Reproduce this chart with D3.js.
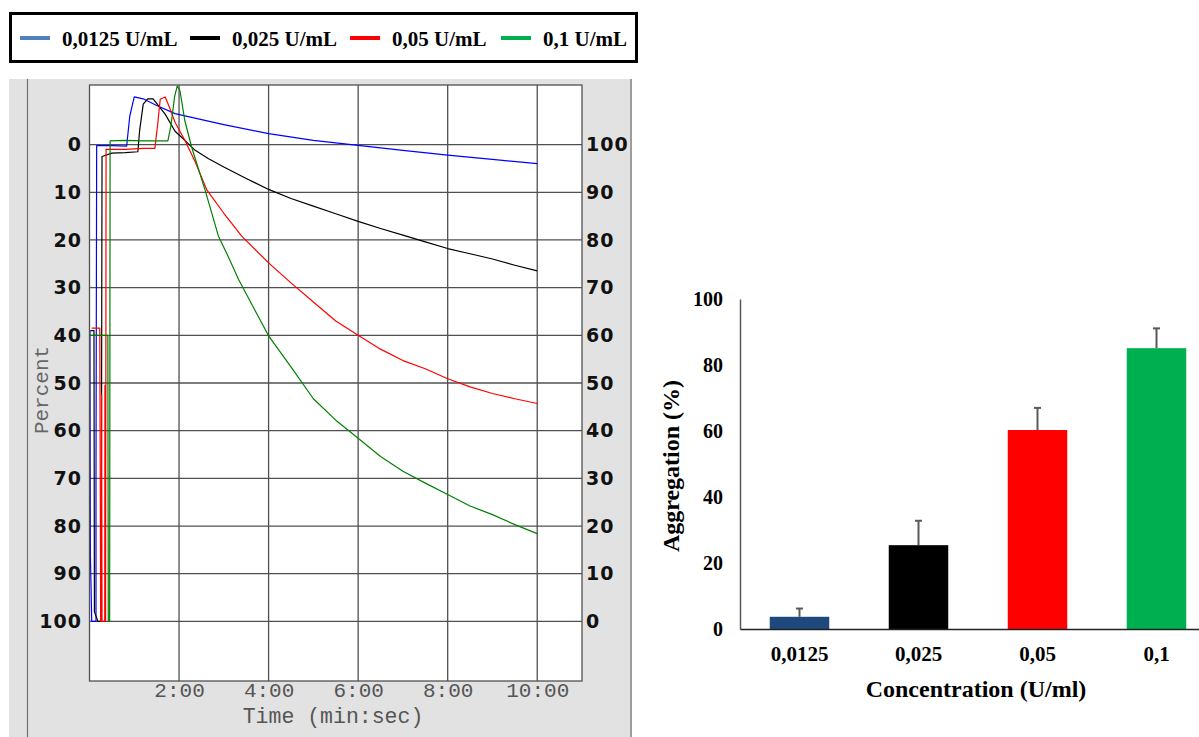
<!DOCTYPE html>
<html><head><meta charset="utf-8">
<script src="https://cdn.jsdelivr.net/npm/d3@7"></script>
<style>body{margin:0;background:#fff} svg{display:block}</style>
</head><body>
<svg id="c" width="1199" height="737"></svg>
<script>
// ---------- data ----------
const legendLabels = ["0,0125 U/mL", "0,025 U/mL", "0,05 U/mL", "0,1 U/mL"];
const legendColors = ["#4f81bd", "#000000", "#ff0000", "#00b050"];
const traceColors = ["#0000ff", "#000000", "#ff0000", "#008000"];
const timeTicks = [2, 4, 6, 8, 10];
const timeTickLabels = ["2:00", "4:00", "6:00", "8:00", "10:00"];
const percentTicks = [0, 10, 20, 30, 40, 50, 60, 70, 80, 90, 100];
// traces: [time (min), aggregation % on right axis]
const traceBlue = [[0,61],[0.01,61],[0.02,14],[0.05,0],[0.07,0],[0.145,0],[0.145,30],[0.16,99.8],[0.5,99.8],[0.83,99.7],[0.9,106],[1.0,110],[1.2,109.6],[1.5,108.2],[1.91,106.5],[3,104.2],[4,102.3],[5,100.9],[6,99.85],[7,98.8],[8,97.8],[9,96.9],[10,96.0]];
const traceBlack = [[0.02,61],[0.1,61],[0.11,2],[0.19,0],[0.26,0],[0.28,97.5],[0.5,98.2],[0.8,98.3],[1.08,98.5],[1.12,103],[1.2,108.5],[1.3,109.6],[1.42,109.6],[1.69,106.4],[1.91,102.8],[2.13,100.9],[2.36,98.8],[2.65,97.1],[3,95.3],[3.5,92.9],[4,90.6],[4.5,88.7],[5,87.1],[5.5,85.5],[6,83.9],[6.5,82.4],[7,81],[7.5,79.6],[8,78.2],[8.5,77.1],[9,76],[9.5,74.7],[10,73.5]];
const traceRed = [[0.05,61.5],[0.23,61.5],[0.25,0],[0.27,0],[0.27,47.5],[0.28,0],[0.34,0],[0.345,49.5],[0.35,0],[0.36,0],[0.37,99],[0.8,99],[1.2,99.2],[1.46,99.2],[1.52,104],[1.58,109.5],[1.69,110],[1.8,107.5],[1.91,104.7],[2.13,100.9],[2.36,96.4],[2.62,90.5],[3,85.6],[3.4,80.8],[4,75.2],[4.5,71],[5,67],[5.5,63],[6,60],[6.5,57.1],[7,54.7],[7.5,53],[8,50.9],[8.5,49.2],[9,47.8],[9.5,46.7],[10,45.7]];
const traceGreen = [[0,60],[0.41,60],[0.42,0],[0.45,0],[0.46,100.8],[0.8,100.9],[1.2,100.8],[1.5,100.8],[1.75,100.8],[1.82,104],[1.9,110],[1.96,112.3],[2.02,111.3],[2.13,105],[2.28,99.5],[2.58,90.5],[2.88,80.8],[3.1,76.5],[3.33,71.7],[4,59.9],[4.5,53.4],[5,46.7],[5.5,42.2],[6,38.4],[6.5,34.6],[7,31.5],[7.5,29],[8,26.6],[8.5,24.2],[9,22.4],[9.5,20.3],[10,18.4]];
const traces = [traceBlue, traceBlack, traceRed, traceGreen];

const barCategories = ["0,0125", "0,025", "0,05", "0,1"];
const barValues = [3.7, 25.4, 60.3, 85.1];
const barErrors = [2.5, 7.4, 6.7, 6.0];
const barColors = ["#1f497d", "#000000", "#ff0000", "#00b050"];
const barTicks = [0, 20, 40, 60, 80, 100];

// ---------- drawing ----------
const svg = d3.select("#c");
const serif = "'Liberation Serif','Times New Roman',serif";
const mono = "'Liberation Mono','Courier New',monospace";

// Legend
const leg = svg.append("g");
leg.append("rect").attr("x", 10.5).attr("y", 13.5).attr("width", 626).attr("height", 48)
  .attr("fill", "#fff").attr("stroke", "#000").attr("stroke-width", 3);
const legX = [20, 190, 350, 501];
legendLabels.forEach((lab, i) => {
  leg.append("line").attr("x1", legX[i]).attr("x2", legX[i] + 30).attr("y1", 38).attr("y2", 38)
    .attr("stroke", legendColors[i]).attr("stroke-width", 4);
  leg.append("text").attr("x", legX[i] + 42).attr("y", 45.5).text(lab)
    .attr("font-family", serif).attr("font-weight", "bold").attr("font-size", 21).attr("fill", "#000");
});

// Left panel
svg.append("rect").attr("x", 9).attr("y", 79).attr("width", 623).attr("height", 670).attr("fill", "#e2e2e2");
svg.append("line").attr("x1", 27.5).attr("x2", 27.5).attr("y1", 79).attr("y2", 737).attr("stroke", "#707070").attr("stroke-width", 1.2);
svg.append("line").attr("x1", 631).attr("x2", 631).attr("y1", 79).attr("y2", 737).attr("stroke", "#707070").attr("stroke-width", 1.2);

const x = d3.scaleLinear().domain([0, 11]).range([89.5, 582]);
const yPct = d3.scaleLinear().domain([-12.5, 112.5]).range([85, 681]);
const yAgg = d3.scaleLinear().domain([112.5, -12.5]).range([85, 681]);
const pL = x(0), pR = x(11), pT = yPct(-12.5), pB = yPct(112.5);

svg.append("rect").attr("x", pL).attr("y", pT).attr("width", pR - pL).attr("height", pB - pT).attr("fill", "#fff");
const grid = svg.append("g").attr("stroke", "#505050").attr("stroke-width", 1.3);
percentTicks.forEach(p => grid.append("line").attr("x1", pL).attr("x2", pR).attr("y1", yPct(p)).attr("y2", yPct(p)));
timeTicks.forEach(t => grid.append("line").attr("y1", pT).attr("y2", pB).attr("x1", x(t)).attr("x2", x(t)));

svg.append("defs").append("clipPath").attr("id", "plotclip")
  .append("rect").attr("x", pL).attr("y", pT).attr("width", pR - pL).attr("height", pB - pT);
const line = d3.line().x(d => x(d[0])).y(d => yAgg(d[1]));
const lg = svg.append("g").attr("clip-path", "url(#plotclip)");
traces.forEach((tr, i) => {
  lg.append("path").datum(tr).attr("d", line).attr("fill", "none")
    .attr("stroke", traceColors[i]).attr("stroke-width", 1.2).attr("stroke-linejoin", "round");
});
svg.append("rect").attr("x", pL).attr("y", pT).attr("width", pR - pL).attr("height", pB - pT)
  .attr("fill", "none").attr("stroke", "#505050").attr("stroke-width", 1.3);

// left axis
const axL = svg.append("g").attr("transform", `translate(${82},0)`)
  .call(d3.axisLeft(yPct).tickValues(percentTicks).tickSize(0).tickPadding(0));
axL.select(".domain").remove();
axL.selectAll("text").attr("font-family", "'DejaVu Sans',Verdana,sans-serif").attr("font-weight", "bold")
  .attr("font-size", 19).attr("letter-spacing", 1).attr("fill", "#111");
// right axis
const axR = svg.append("g").attr("transform", `translate(${586},0)`)
  .call(d3.axisRight(yAgg).tickValues(percentTicks).tickSize(0).tickPadding(0));
axR.select(".domain").remove();
axR.selectAll("text").attr("font-family", "'DejaVu Sans',Verdana,sans-serif").attr("font-weight", "bold")
  .attr("font-size", 19).attr("letter-spacing", 1).attr("fill", "#111");
// bottom axis
const axB = svg.append("g").attr("transform", `translate(0,${pB})`)
  .call(d3.axisBottom(x).tickValues(timeTicks).tickFormat((d, i) => timeTickLabels[i]).tickSize(0).tickPadding(1.5));
axB.select(".domain").remove();
axB.selectAll("text").attr("font-family", mono).attr("font-size", 21).attr("fill", "#555");
svg.append("text").attr("x", 333).attr("y", 722.5).attr("text-anchor", "middle").text("Time (min:sec)")
  .attr("font-family", mono).attr("font-size", 21.5).attr("fill", "#555");
svg.append("text").attr("transform", "translate(48,390) rotate(-90)").attr("text-anchor", "middle").text("Percent")
  .attr("font-family", mono).attr("font-size", 21).attr("fill", "#666");

// ---------- bar chart ----------
const xb = d3.scaleBand().domain(barCategories).range([740, 1216]).paddingInner(0.5).paddingOuter(0.25);
const yb = d3.scaleLinear().domain([0, 100]).range([629, 299]);

const bars = svg.append("g");
barCategories.forEach((c, i) => {
  bars.append("rect").attr("x", xb(c)).attr("y", yb(barValues[i])).attr("width", xb.bandwidth())
    .attr("height", yb(0) - yb(barValues[i])).attr("fill", barColors[i]);
  const cx = xb(c) + xb.bandwidth() / 2;
  bars.append("line").attr("x1", cx).attr("x2", cx).attr("y1", yb(barValues[i])).attr("y2", yb(barValues[i] + barErrors[i]))
    .attr("stroke", "#595959").attr("stroke-width", 2);
  bars.append("line").attr("x1", cx - 3.5).attr("x2", cx + 3.5).attr("y1", yb(barValues[i] + barErrors[i])).attr("y2", yb(barValues[i] + barErrors[i]))
    .attr("stroke", "#595959").attr("stroke-width", 2);
});

const byAx = svg.append("g").attr("transform", "translate(740,0)")
  .call(d3.axisLeft(yb).tickValues(barTicks).tickSize(0).tickPadding(17).tickSizeOuter(0));
byAx.select(".domain").attr("stroke", "#595959").attr("stroke-width", 1.5);
byAx.selectAll("text").attr("font-family", serif).attr("font-weight", "bold").attr("font-size", 20).attr("fill", "#000");

const bxAx = svg.append("g").attr("transform", "translate(0,629)")
  .call(d3.axisBottom(xb).tickSize(0).tickPadding(17).tickSizeOuter(0));
bxAx.select(".domain").attr("stroke", "#222").attr("stroke-width", 1.5);
bxAx.selectAll("text").attr("font-family", serif).attr("font-weight", "bold").attr("font-size", 21).attr("fill", "#000");

svg.append("text").attr("x", 976).attr("y", 696.5).attr("text-anchor", "middle").text("Concentration (U/ml)")
  .attr("font-family", serif).attr("font-weight", "bold").attr("font-size", 24).attr("fill", "#000");
svg.append("text").attr("transform", "translate(679,466) rotate(-90)").attr("text-anchor", "middle").text("Aggregation (%)")
  .attr("font-family", serif).attr("font-weight", "bold").attr("font-size", 24).attr("fill", "#000");
</script>
</body></html>
